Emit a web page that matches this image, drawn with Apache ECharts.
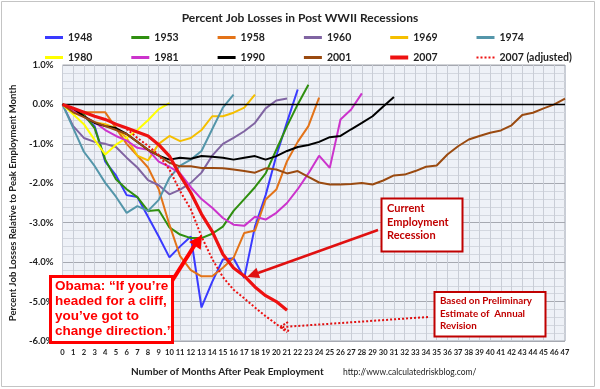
<!DOCTYPE html>
<html>
<head>
<meta charset="utf-8">
<script src="https://cdn.jsdelivr.net/npm/echarts@6/dist/echarts.min.js"></script>
<style>html,body{margin:0;padding:0;background:#fff}#c{width:600px;height:389px}</style>
</head>
<body>
<div id="c"></div>
<script>
var months = [];
for (var i = 0; i <= 47; i++) months.push(String(i));

var yTickLabels = ['-6.0%','-5.0%','-4.0%','-3.0%','-2.0%','-1.0%','0.0%','1.0%'];

var seriesNames = ['1948','1953','1958','1960','1969','1974','1980','1981','1990','2001','2007','2007 (adjusted)'];

var s1948 = [0,-0.1,-0.3,-0.55,-1.45,-1.8,-2.3,-2.35,-2.85,-3.35,-3.88,-3.6,-3.35,-5.15,-4.5,-3.93,-3.9,-4.4,-3.1,-2.3,-1.3,-0.45,0.38];
var s1953 = [0,-0.1,-0.25,-0.6,-1.4,-1.9,-2.15,-2.35,-2.7,-2.68,-3.12,-3.3,-3.39,-3.39,-3.28,-3.1,-2.7,-2.4,-2.1,-1.75,-1.15,-0.55,0.0,0.5];
var s1958 = [0,-0.15,-0.2,-0.2,-0.2,-0.6,-1.0,-1.3,-1.6,-2.15,-3.05,-3.85,-4.2,-4.36,-4.36,-4.14,-3.89,-3.26,-3.2,-2.41,-2.16,-1.44,-0.95,-0.55,0.17];
var s1960 = [0,-0.55,-0.85,-0.95,-1.0,-1.08,-1.35,-1.6,-1.92,-2.05,-2.28,-2.16,-1.99,-1.73,-1.3,-1.0,-0.85,-0.68,-0.47,-0.1,0.1,0.15];
var s1969 = [0,-0.15,-0.3,-0.45,-0.5,-0.6,-0.85,-1.3,-1.42,-1.0,-0.8,-0.93,-0.85,-0.65,-0.3,-0.3,-0.21,-0.08,0.25];
var s1974 = [0,-0.6,-1.2,-1.56,-1.99,-2.34,-2.75,-2.58,-2.7,-2.42,-1.86,-1.55,-1.4,-1.18,-0.63,-0.08,0.25];
var s1980 = [0,-0.25,-0.5,-0.9,-1.27,-1.02,-0.85,-0.65,-0.4,-0.12,0.03];
var s1981 = [0,-0.15,-0.3,-0.45,-0.65,-0.8,-0.92,-1.1,-1.15,-1.45,-1.58,-1.75,-2.1,-2.4,-2.62,-2.88,-3.05,-3.08,-2.85,-2.92,-2.75,-2.5,-2.15,-1.75,-1.3,-1.61,-0.38,-0.13,0.28];
var s1990 = [0,-0.1,-0.3,-0.47,-0.55,-0.6,-0.75,-0.95,-1.15,-1.3,-1.4,-1.35,-1.38,-1.31,-1.33,-1.35,-1.4,-1.35,-1.31,-1.4,-1.31,-1.18,-1.08,-1.03,-0.95,-0.83,-0.8,-0.63,-0.47,-0.3,-0.05,0.19];
var s2001 = [0,-0.2,-0.32,-0.45,-0.55,-0.65,-0.75,-0.95,-1.15,-1.3,-1.48,-1.57,-1.57,-1.61,-1.61,-1.62,-1.65,-1.69,-1.73,-1.62,-1.65,-1.75,-1.69,-1.84,-1.98,-2.03,-2.03,-2.02,-1.99,-2.03,-1.93,-1.8,-1.78,-1.69,-1.58,-1.55,-1.27,-1.06,-0.89,-0.8,-0.72,-0.66,-0.53,-0.27,-0.21,-0.1,0.0,0.15];
var s2007 = [0,-0.1,-0.2,-0.3,-0.38,-0.5,-0.6,-0.7,-0.8,-1.02,-1.31,-1.8,-2.24,-2.78,-3.22,-3.8,-4.15,-4.35,-4.63,-4.85,-5.0,-5.22];
var s2007adj = [null,null,null,null,null,null,-0.62,-0.85,-1.05,-1.28,-1.65,-2.2,-2.66,-3.35,-3.92,-4.38,-4.7,-4.92,-5.15,-5.37,-5.57,-5.78];

var allData = [s1948,s1953,s1958,s1960,s1969,s1974,s1980,s1981,s1990,s2001,s2007,s2007adj];
var colors = ['#3a3aff','#2f8f0f','#e37318','#8064a2','#f5bf00','#5496aa','#ffff00','#cc33cc','#000000','#9a4a10','#ee1111','#ee1111'];

var FONT = 'Lato, "Liberation Sans", sans-serif';
var AFONT = '"Liberation Sans", Arial, sans-serif';
var DOTTED_ICON = 'path://M0,0h2v2h-2zM4,0h2v2h-2zM8,0h2v2h-2zM12,0h2v2h-2zM16,0h2v2h-2z';

var series = seriesNames.map(function (n, k) {
  var s = {
    name: n, type: 'line', data: allData[k], symbol: 'none', smooth: false,
    lineStyle: { color: colors[k], width: k === 10 ? 3.2 : 2, type: k === 11 ? 'dotted' : 'solid' },
    itemStyle: { color: colors[k] },
    z: k === 10 ? 5 : 3,
    connectNulls: false
  };
  if (k === 8) {
    s.markLine = { silent: true, symbol: 'none', label: { show: false },
      lineStyle: { color: '#000', width: 1.3, type: 'solid' }, data: [{ yAxis: 0 }] };
  }
  return s;
});

var legends = seriesNames.map(function (n, k) {
  var col = k % 6, row = Math.floor(k / 6);
  return {
    data: [{ name: n, icon: k === 11 ? DOTTED_ICON : 'rect' }],
    left: 45 + 86.3 * col, top: row === 0 ? 32 : 52,
    itemWidth: 18, itemHeight: k === 10 ? 4 : 3, itemGap: 0, padding: 0,
    itemStyle: { borderWidth: 0 },
    textStyle: { fontFamily: FONT, fontWeight: 'bold', fontSize: 10.5, color: '#222' }
  };
});

function arrowHead(tipX, tipY, fromX, fromY, len, half, color) {
  var dx = tipX - fromX, dy = tipY - fromY, L = Math.sqrt(dx*dx + dy*dy);
  var ux = dx / L, uy = dy / L, px = -uy, py = ux;
  var bx = tipX - ux * len, by = tipY - uy * len;
  return { type: 'polygon', z: 100, shape: { points: [[tipX, tipY], [bx + px*half, by + py*half], [bx - px*half, by - py*half]] }, style: { fill: color } };
}

var chart = echarts.init(document.getElementById('c'));
chart.setOption({
  backgroundColor: '#ffffff',
  animation: false,
  title: {
    text: 'Percent Job Losses in Post WWII Recessions', left: 'center', top: 7,
    textStyle: { fontFamily: FONT, fontWeight: 'bold', fontSize: 12, color: '#222' }
  },
  legend: legends,
  grid: { left: 52, right: 35, top: 65, bottom: 48, show: true, backgroundColor: '#eef1f7', borderColor: '#a4a8b0', borderWidth: 1 },
  xAxis: {
    type: 'category', data: months, boundaryGap: false,
    axisLine: { show: false }, axisTick: { show: false },
    axisLabel: { interval: 0, fontFamily: FONT, fontWeight: 'bold', fontSize: 7.6, color: '#222', margin: 8 },
    splitLine: { show: true, interval: 0, lineStyle: { color: '#c9cdd6', width: 1 } }
  },
  yAxis: {
    type: 'value', min: -6, max: 1, interval: 1,
    name: 'Percent Job Losses Relative to Peak Employment Month', nameLocation: 'middle', nameGap: 40,
    nameTextStyle: { fontFamily: FONT, fontWeight: 'bold', fontSize: 9.5, color: '#222' },
    axisLine: { show: false }, axisTick: { show: false },
    axisLabel: { fontFamily: FONT, fontWeight: 'bold', fontSize: 9.5, color: '#222', margin: 9,
      formatter: function (v) { return yTickLabels[Math.round(v) + 6]; } },
    splitLine: { show: true, lineStyle: { color: '#a6a9b1', width: 1 } },
    minorTick: { show: false, splitNumber: 5 },
    minorSplitLine: { show: true, lineStyle: { color: '#d3d7df', width: 1 } }
  },
  series: series,
  graphic: [
    { type: 'rect', z: -10, shape: { x: 1.5, y: 1.5, width: 593, height: 385 }, style: { fill: null, stroke: '#c4c4c4', lineWidth: 1 } },
    { type: 'text', left: 131, top: 367, style: { text: 'Number of Months After Peak Employment', font: 'bold 10px ' + FONT, fill: '#222' } },
    { type: 'text', left: 343, top: 368, style: { text: 'http://www.calculatedriskblog.com/', font: '8.5px ' + FONT, fill: '#222' } },

    // Obama box
    { type: 'polyline', z: 100, shape: { points: [[172, 281], [196, 243]] }, style: { stroke: '#ff0000', lineWidth: 4 } },
    arrowHead(202, 235, 172, 281, 13, 7, '#ff0000'),
    { type: 'rect', z: 101, shape: { x: 50.5, y: 276.5, width: 122, height: 66 }, style: { fill: '#ffffff', stroke: '#ff0000', lineWidth: 3 } },
    { type: 'text', z: 102, left: 55, top: 279, style: { text: 'Obama: \u201cIf you\u2019re\nheaded for a cliff,\nyou\u2019ve got to\nchange direction.\u201d', font: 'bold 13.5px ' + AFONT, fill: '#ff0000', lineHeight: 15 } },

    // Current employment recession
    { type: 'polyline', z: 100, shape: { points: [[378, 230], [258, 273]] }, style: { stroke: '#e01010', lineWidth: 2.5 } },
    arrowHead(247, 277, 378, 230, 12, 5.5, '#e01010'),
    { type: 'rect', z: 101, shape: { x: 381.5, y: 198.5, width: 81, height: 53 }, style: { fill: '#ffffff', stroke: '#c00000', lineWidth: 2 } },
    { type: 'text', z: 102, left: 387, top: 202, style: { text: 'Current\nEmployment\nRecession', font: 'bold 11px ' + FONT, fill: '#c00000', lineHeight: 13.5 } },

    // Preliminary estimate
    { type: 'polyline', z: 100, shape: { points: [[428, 317], [283, 327]] }, style: { stroke: '#e01010', lineWidth: 2, lineDash: [2, 2] } },
    { type: 'polyline', z: 100, shape: { points: [[288, 322], [280, 327], [289, 331]] }, style: { stroke: '#e01010', lineWidth: 2, lineDash: [2, 1.5] } },
    { type: 'rect', z: 101, shape: { x: 434.5, y: 292, width: 111, height: 44.5 }, style: { fill: '#ffffff', stroke: '#c00000', lineWidth: 2 } },
    { type: 'text', z: 102, left: 440, top: 295, style: { text: 'Based on Preliminary\nEstimate of  Annual\nRevision', font: 'bold 9.8px ' + FONT, fill: '#c00000', lineHeight: 12.3 } }
  ]
});
</script>
</body>
</html>
